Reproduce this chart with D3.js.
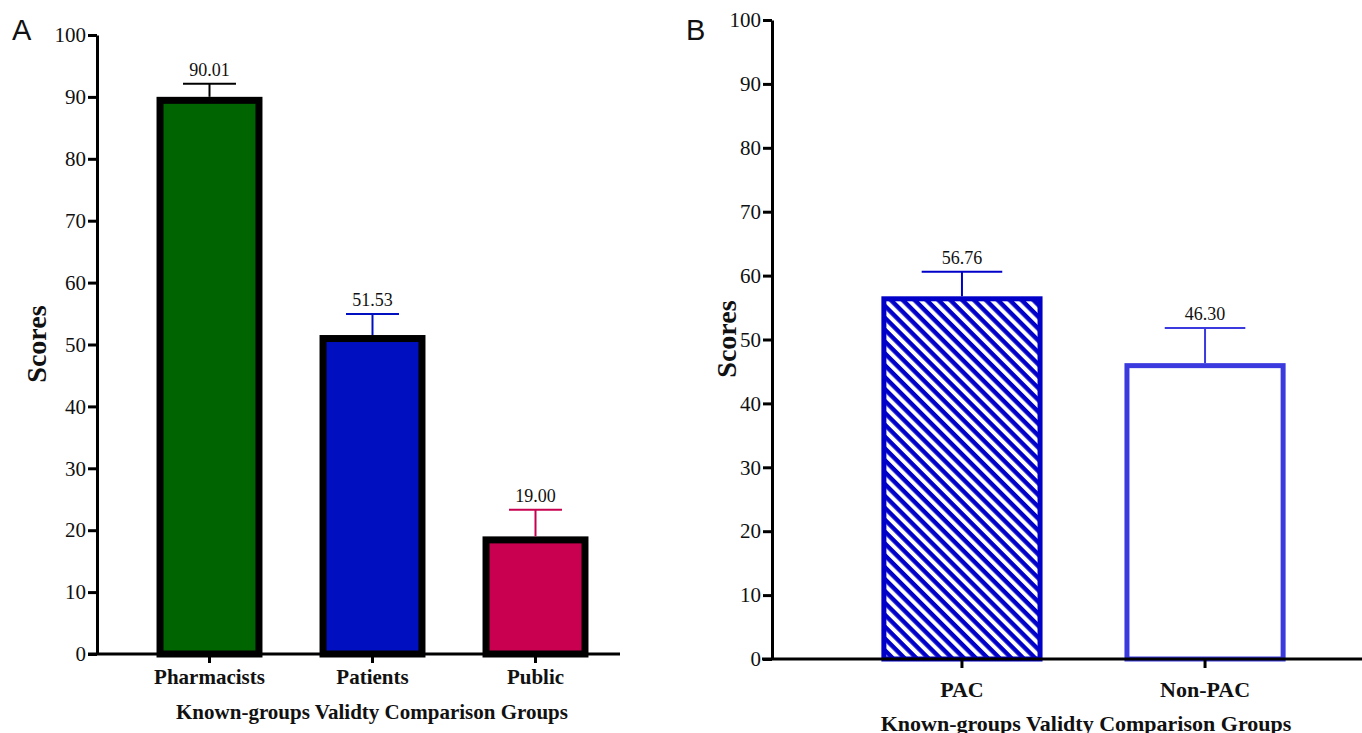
<!DOCTYPE html>
<html>
<head>
<meta charset="utf-8">
<script src="https://cdn.jsdelivr.net/npm/d3@7"></script>
<style>
  body { margin: 0; background: #fff; }
  svg { display: block; }
</style>
</head>
<body>
<svg id="chart" width="1362" height="733"></svg>
<script>
// panel A data
const groupsA = ["Pharmacists", "Patients", "Public"];
const meansA = [90.01, 51.53, 19.00];
const errA = [2.1, 3.4, 4.3];
const fillA = ["#006400", "#0010c0", "#c8004f"];
const errColorA = ["#000000", "#0010c0", "#c8004f"];

// panel B data
const groupsB = ["PAC", "Non-PAC"];
const meansB = [56.76, 46.30];
const errB = [3.85, 5.5];

const yTicks = [0, 10, 20, 30, 40, 50, 60, 70, 80, 90, 100];
const xTitle = "Known-groups Validty Comparison Groups";

const svg = d3.select("#chart");
const serif = "'Liberation Serif', 'Times New Roman', serif";

// hatch for PAC bar
svg.append("defs")
    .append("pattern")
    .attr("id", "hatch")
    .attr("patternUnits", "userSpaceOnUse")
    .attr("width", 8.4)
    .attr("height", 8.4)
    .attr("patternTransform", "rotate(45)")
    .call((p) => {
        p.append("rect").attr("width", 8.4).attr("height", 8.4).attr("fill", "#fff");
        p.append("rect").attr("width", 8.4).attr("height", 4.4).attr("fill", "#0000c8");
    });

function yAxis(g, y, x0) {
    g.attr("transform", `translate(${x0},0)`)
        .call(d3.axisLeft(y).tickValues(yTicks).tickSize(9).tickPadding(2).tickSizeOuter(0))
        .attr("font-family", serif)
        .attr("font-size", 21)
        .call((s) => s.selectAll("path,line").attr("stroke", "#000").attr("stroke-width", 3))
        .call((s) => s.selectAll("text").attr("fill", "#111").attr("font-family", serif));
}

function xAxis(g, x, y0, xStart, xEnd) {
    g.attr("transform", `translate(0,${y0})`)
        .call(d3.axisBottom(x).tickSize(9).tickSizeOuter(0).tickFormat(""))
        .call((s) => s.select(".domain").remove())
        .call((s) => s.selectAll("line").attr("stroke", "#000").attr("stroke-width", 3));
    g.append("line")
        .attr("x1", xStart).attr("x2", xEnd)
        .attr("y1", 0).attr("y2", 0)
        .attr("stroke", "#000").attr("stroke-width", 3);
}

// ---------- Panel A ----------
const xA = d3.scaleBand().domain(groupsA).range([128, 617]).paddingInner(0.35).paddingOuter(0.175);
const yA = d3.scaleLinear().domain([0, 100]).range([654, 35]);
const gA = svg.append("g");
const swA = 7;

gA.selectAll("rect.bar")
    .data(groupsA)
    .join("rect")
    .attr("class", "bar")
    .attr("x", (d) => xA(d) + swA / 2)
    .attr("width", xA.bandwidth() - swA)
    .attr("y", (d, i) => yA(meansA[i]) + swA / 2)
    .attr("height", (d, i) => yA(0) - yA(meansA[i]) - swA / 2)
    .attr("fill", (d, i) => fillA[i])
    .attr("stroke", "#000")
    .attr("stroke-width", swA);

groupsA.forEach((d, i) => {
    const cx = xA(d) + xA.bandwidth() / 2;
    const top = yA(meansA[i] + errA[i]);
    const w = xA.bandwidth() / 2;
    gA.append("line").attr("x1", cx).attr("x2", cx).attr("y1", yA(meansA[i])).attr("y2", top)
        .attr("stroke", errColorA[i]).attr("stroke-width", 2);
    gA.append("line").attr("x1", cx - w / 2).attr("x2", cx + w / 2).attr("y1", top).attr("y2", top)
        .attr("stroke", errColorA[i]).attr("stroke-width", 2);
    gA.append("text").attr("x", cx).attr("y", top - 8).attr("text-anchor", "middle")
        .attr("font-family", serif).attr("font-size", 18).attr("fill", "#111")
        .text(meansA[i].toFixed(2));
    gA.append("text").attr("x", cx).attr("y", 684).attr("text-anchor", "middle")
        .attr("font-family", serif).attr("font-size", 21).attr("font-weight", "bold").attr("fill", "#111")
        .text(d);
});

gA.append("g").call(yAxis, yA, 97);
gA.append("g").call(xAxis, xA, 654, 88, 620);

gA.append("text").attr("x", 372).attr("y", 719).attr("text-anchor", "middle")
    .attr("font-family", serif).attr("font-size", 21).attr("font-weight", "bold").attr("fill", "#111")
    .text(xTitle);
gA.append("text").attr("transform", "translate(46,344) rotate(-90)").attr("text-anchor", "middle")
    .attr("font-family", serif).attr("font-size", 28).attr("font-weight", "bold").attr("fill", "#111")
    .text("Scores");
gA.append("text").attr("x", 12).attr("y", 40)
    .attr("font-family", "'Liberation Sans', Arial, sans-serif").attr("font-size", 29).attr("fill", "#111")
    .text("A");

// ---------- Panel B ----------
const xB = d3.scaleBand().domain(groupsB).range([772, 1395]).paddingInner(0.337).paddingOuter(0.45);
const yB = d3.scaleLinear().domain([0, 100]).range([659, 20]);
const gB = svg.append("g");
const swB = 5;
const strokeB = ["#0000c8", "#3a3ade"];
const fillB = ["url(#hatch)", "#fff"];

gB.selectAll("rect.bar")
    .data(groupsB)
    .join("rect")
    .attr("class", "bar")
    .attr("x", (d) => xB(d) + swB / 2)
    .attr("width", xB.bandwidth() - swB)
    .attr("y", (d, i) => yB(meansB[i]) + swB / 2)
    .attr("height", (d, i) => yB(0) - yB(meansB[i]) - swB / 2)
    .attr("fill", (d, i) => fillB[i])
    .attr("stroke", (d, i) => strokeB[i])
    .attr("stroke-width", swB);

groupsB.forEach((d, i) => {
    const cx = xB(d) + xB.bandwidth() / 2;
    const top = yB(meansB[i] + errB[i]);
    const w = xB.bandwidth() / 2;
    gB.append("line").attr("x1", cx).attr("x2", cx).attr("y1", yB(meansB[i])).attr("y2", top)
        .attr("stroke", strokeB[i]).attr("stroke-width", 2);
    gB.append("line").attr("x1", cx - w / 2).attr("x2", cx + w / 2).attr("y1", top).attr("y2", top)
        .attr("stroke", strokeB[i]).attr("stroke-width", 2);
    gB.append("text").attr("x", cx).attr("y", top - 8).attr("text-anchor", "middle")
        .attr("font-family", serif).attr("font-size", 18).attr("fill", "#111")
        .text(meansB[i].toFixed(2));
    gB.append("text").attr("x", cx).attr("y", 697).attr("text-anchor", "middle")
        .attr("font-family", serif).attr("font-size", 22).attr("font-weight", "bold").attr("fill", "#111")
        .text(d);
});

gB.append("g").call(yAxis, yB, 772);
gB.append("g").call(xAxis, xB, 659, 762, 1362);

gB.append("text").attr("x", 1086).attr("y", 731).attr("text-anchor", "middle")
    .attr("font-family", serif).attr("font-size", 22).attr("font-weight", "bold").attr("fill", "#111")
    .text(xTitle);
gB.append("text").attr("transform", "translate(736,339) rotate(-90)").attr("text-anchor", "middle")
    .attr("font-family", serif).attr("font-size", 28).attr("font-weight", "bold").attr("fill", "#111")
    .text("Scores");
gB.append("text").attr("x", 686).attr("y", 40)
    .attr("font-family", "'Liberation Sans', Arial, sans-serif").attr("font-size", 29).attr("fill", "#111")
    .text("B");
</script>
</body>
</html>
